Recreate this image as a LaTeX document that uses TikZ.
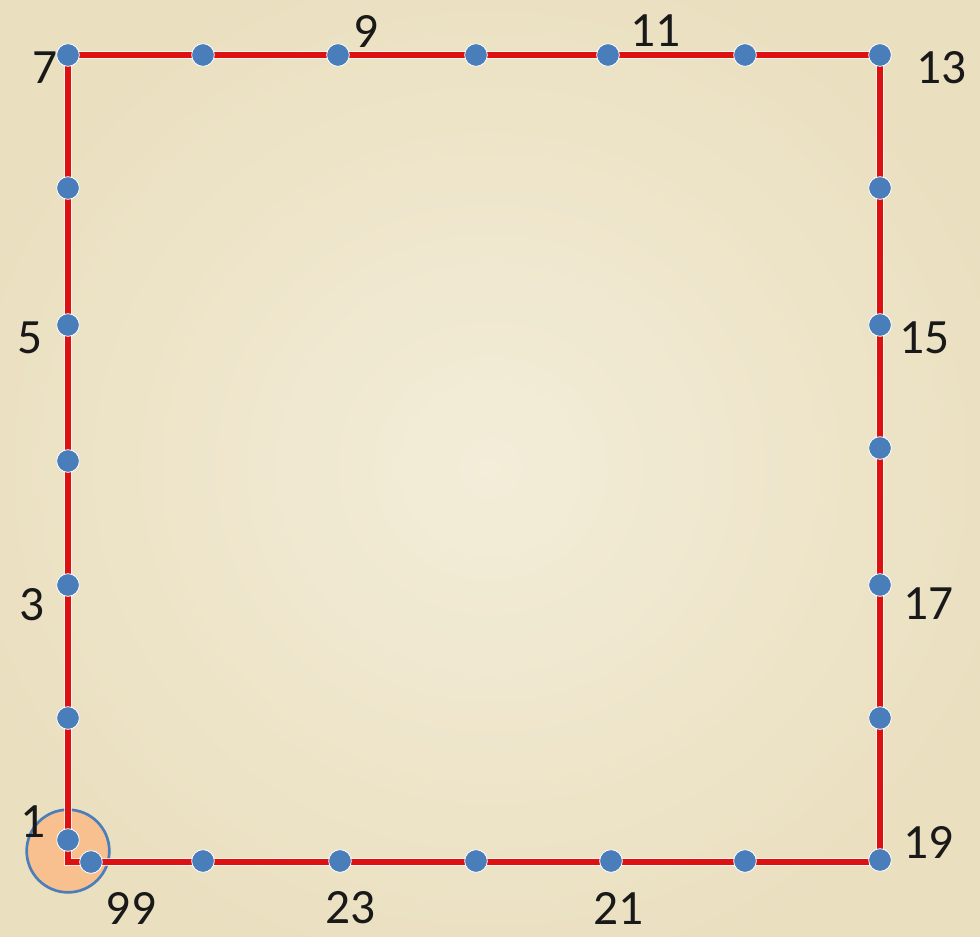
\documentclass[tikz,border=0pt]{standalone}
\usepackage{fontspec}
\setmainfont{Carlito}
\begin{document}
\begin{tikzpicture}[x=0.75pt,y=-0.75pt,
  dot/.style={circle,fill=dotblue,draw=white,line width=0.6pt,minimum size=17pt,inner sep=0pt},
  lbl/.style={font=\fontsize{37}{40}\selectfont,text=black!90,inner sep=0pt},
  redline/.style={draw=linered,line width=4.3pt,line join=miter},
  halo/.style={draw=white,line width=5.8pt,opacity=0.7}]
\definecolor{bg}{HTML}{F3EDD9}
\definecolor{bgedge}{HTML}{EADFBF}
\definecolor{dotblue}{HTML}{4A7EBB}
\definecolor{linered}{HTML}{DD1111}
\definecolor{peach}{HTML}{F8C08F}
\useasboundingbox (0,0) rectangle (980,936);
\shade[inner color=bg, outer color=bgedge] (-60,-60) rectangle (1040,996);
% corners
\coordinate (TL) at (68,55);
\coordinate (TR) at (880,55);
\coordinate (BR) at (880,862);
\coordinate (BL) at (68,862);
% start marker
\node[circle,fill=peach,draw=dotblue,line width=2pt,minimum size=62pt,inner sep=0pt] (start) at (68,851) {};
% path
\draw[halo] (BL) -- (TL) -- (TR) -- (BR) -- cycle;
\draw[redline] (BL) -- (TL) -- (TR) -- (BR) -- cycle;
% dots top
\node[dot] (t1) at (68,55) {};
\node[dot] (t2) at (203,55) {};
\node[dot] (t3) at (338,55) {};
\node[dot] (t4) at (476,55) {};
\node[dot] (t5) at (608,55) {};
\node[dot] (t6) at (745,55) {};
\node[dot] (t7) at (880,55) {};
% right
\node[dot] (r1) at (880,188) {};
\node[dot] (r2) at (880,325) {};
\node[dot] (r3) at (880,448) {};
\node[dot] (r4) at (880,585) {};
\node[dot] (r5) at (880,718) {};
\node[dot] (r6) at (880,860) {};
% bottom
\node[dot] (b1) at (745,861) {};
\node[dot] (b2) at (611,861) {};
\node[dot] (b3) at (476,861) {};
\node[dot] (b4) at (340,861) {};
\node[dot] (b5) at (203,861) {};
\node[dot] (b6) at (91,862) {};
% left
\node[dot] (l1) at (68,840) {};
\node[dot] (l2) at (68,718) {};
\node[dot] (l3) at (68,585) {};
\node[dot] (l4) at (68,461) {};
\node[dot] (l5) at (68,325) {};
\node[dot] (l6) at (68,188) {};
% labels
\node[lbl] (n9) at (366,31) {9};
\node[lbl] (n11) at (655,31) {11};
\node[lbl] (n13) at (941,68) {13};
\node[lbl] (n15) at (924,338) {15};
\node[lbl] (n17) at (928,604) {17};
\node[lbl] (n19) at (928,842) {19};
\node[lbl] (n21) at (618,908) {21};
\node[lbl] (n23) at (350,908) {23};
\node[lbl] (n99) at (131,908) {99};
\node[lbl] (n1) at (33,822) {1};
\node[lbl] (n3) at (32,605) {3};
\node[lbl] (n5) at (30,338) {5};
\node[lbl] (n7) at (45,68) {7};
\end{tikzpicture}
\end{document}
